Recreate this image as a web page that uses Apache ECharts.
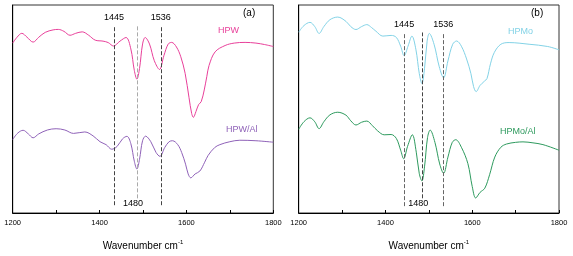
<!DOCTYPE html>
<html><head><meta charset="utf-8">
<script src="https://cdn.jsdelivr.net/npm/echarts@6/dist/echarts.min.js"></script>
<style>html,body{margin:0;padding:0;background:#fff}#c{width:573px;height:256px}</style>
</head><body><div id="c"></div>
<script>
// Wavenumber (cm-1) vs. intensity (arbitrary units)
const hpw = [[1200,174],[1210,180],[1221,184],[1233,180],[1247,175],[1260,180],[1275,185],[1293,187.5],[1305,188],[1318,186],[1332,182],[1345,184],[1360,185.5],[1375,182],[1390,177],[1408,176],[1420,174.5],[1432,171],[1447,176],[1461,179.7],[1472,168],[1480,146],[1486,137],[1492,148],[1499,173],[1505,179.7],[1515,173],[1526,156],[1538,147],[1548,161],[1558,173],[1566,174.7],[1577,170],[1587,160],[1597,143],[1606,118],[1612,102],[1616,98],[1622,104],[1628,111],[1634,114],[1641,126],[1647,140],[1652,151],[1666,165],[1689,171.5],[1710,174],[1735,174.7],[1760,174],[1780,172.5],[1800,170.5]];
const hpwAl = [[1200,75.3],[1212,82],[1224,84.7],[1236,81],[1247,77],[1260,81],[1280,85],[1300,86.3],[1320,85],[1340,81.5],[1366,83],[1385,79],[1401,73],[1415,70],[1428,65.3],[1440,68],[1453,76],[1463,78.5],[1472,71],[1480,53],[1486,45],[1492,55],[1499,74],[1506,78.7],[1518,73],[1530,62],[1539,58],[1550,67],[1560,73],[1568,74],[1580,70],[1589,62],[1598,50],[1604,40],[1610,36],[1620,40],[1631,43],[1642,52],[1650,59],[1665,67],[1677,70],[1700,73],[1723,74.5],[1760,74],[1800,72.5]];
const hpmo = [[1200,184.3],[1212,191],[1226,194.3],[1237,190],[1247,183],[1258,190],[1272,197],[1290,199.7],[1309,195.3],[1320,190],[1332,187],[1345,190],[1357,192],[1368,189],[1378,185.3],[1394,180.3],[1413,181],[1425,179],[1435,170],[1443,160.3],[1452,170],[1461,180.3],[1470,167],[1478,142],[1484,132],[1490,147],[1496,175],[1501,183],[1512,172],[1524,149],[1534,137.7],[1544,155],[1555,172],[1564,175.3],[1575,170],[1587,157],[1597,142],[1603,129],[1609,123.7],[1618,130],[1628,134.3],[1634,137],[1642,152],[1651,163.7],[1666,172],[1685,173.7],[1731,172],[1774,169.7],[1800,166.3]];
const hpmoAl = [[1200,85.3],[1212,93],[1226,97],[1237,93],[1247,86],[1258,93],[1272,100],[1290,102.7],[1309,99.7],[1320,94],[1332,89.7],[1345,92.5],[1357,93.7],[1370,89],[1382,83.7],[1397,79.7],[1413,80],[1425,76],[1435,64],[1442,55.3],[1451,68],[1462,79.7],[1471,62],[1478,40],[1484,32.7],[1490,47],[1497,77],[1503,84.5],[1514,72],[1525,50],[1534,40.5],[1544,57],[1554,72],[1562,74.7],[1575,67],[1590,50.3],[1600,27],[1608,15.3],[1618,21],[1629,25.3],[1640,39],[1652,57],[1666,67],[1679,70.3],[1700,72],[1717,72.5],[1740,71.5],[1763,69.7],[1800,64]];
// reference band lines (position on axis, label)
const bandPosA = [1433, 1486, 1541];
const bandPosB = [1443, 1485, 1533];
const bandLabels = ['1445', '1480', '1536'];
const xTicks = [1200, 1400, 1600, 1800];

const chart = echarts.init(document.getElementById('c'), null, {renderer:'canvas'});
const FONT = 'Liberation Sans';

function xAxis(gi){
  return {
    type:'value', gridIndex:gi, min:1200, max:1800, interval:100,
    axisLine:{show:true, onZero:false, lineStyle:{color:'#000', width:1}},
    axisTick:{show:true, inside:true, length:3, lineStyle:{color:'#000'}},
    axisLabel:{fontFamily:FONT, fontSize:7.5, color:'#000', margin:6,
      formatter:v => xTicks.includes(v) ? String(v) : ''},
    splitLine:{show:false},
    name:'{a|Wavenumber cm}{s|-1}', nameLocation:'middle', nameGap:26,
    nameTextStyle:{rich:{a:{fontFamily:FONT, fontSize:10, color:'#000'}, s:{fontFamily:FONT, fontSize:6, color:'#000', verticalAlign:'top', padding:[0,0,8,0]}}}
  };
}
function yAxis(gi, max){
  return {type:'value', gridIndex:gi, min:0, max:max,
    axisLine:{show:true, lineStyle:{color:'#000', width:1}},
    axisTick:{show:false}, axisLabel:{show:false}, splitLine:{show:false}};
}
function bands(pos, y0s, y1, colors){
  return pos.map((p,i)=>[
    {coord:[p, y0s[i]], lineStyle:{color:colors[i]},
     label:{show:true, position: i===1 ? 'start' : 'end', formatter:bandLabels[i],
       fontFamily:FONT, fontSize:9, color:'#000', distance: i===1 ? 1 : 3, offset: i===1 ? [-4,0] : [0,0]}},
    {coord:[p, y1]}
  ]);
}

const option = {
  animation:false,
  backgroundColor:'#fff',
  grid:[
    {left:12.7, right:299.7, top:5, bottom:38, show:true, borderColor:'#333', borderWidth:1},
    {left:298.7, right:14, top:5, bottom:39, show:true, borderColor:'#333', borderWidth:1}
  ],
  xAxis:[xAxis(0), xAxis(1)],
  yAxis:[yAxis(0,213), yAxis(1,212)],
  series:[
    {type:'line', xAxisIndex:0, yAxisIndex:0, data:hpw, smooth:0.35, showSymbol:false,
     lineStyle:{color:'#e8409a', width:1},
     markLine:{silent:true, symbol:'none', lineStyle:{type:[4,2], width:1},
       data:bands(bandPosA, [8,15,8], 192, ['#444','#aaa','#444'])}},
    {type:'line', xAxisIndex:0, yAxisIndex:0, data:hpwAl, smooth:0.35, showSymbol:false,
     lineStyle:{color:'#8f62b8', width:1}},
    {type:'line', xAxisIndex:1, yAxisIndex:1, data:hpmo, smooth:0.35, showSymbol:false,
     lineStyle:{color:'#82d2e6', width:1},
     markLine:{silent:true, symbol:'none', lineStyle:{type:[4,2], width:1},
       data:bands(bandPosB, [7,15,7], 184, ['#666','#444','#666'])}},
    {type:'line', xAxisIndex:1, yAxisIndex:1, data:hpmoAl, smooth:0.35, showSymbol:false,
     lineStyle:{color:'#2e9a5e', width:1}}
  ],
  graphic:[
    {type:'text', left:243, top:8, style:{text:'(a)', font:'10px "Liberation Sans"', fill:'#000'}},
    {type:'text', left:531, top:8, style:{text:'(b)', font:'10px "Liberation Sans"', fill:'#000'}},
    {type:'text', left:218, top:26, style:{text:'HPW', font:'9px "Liberation Sans"', fill:'#e8409a'}},
    {type:'text', left:226, top:125, style:{text:'HPW/Al', font:'9px "Liberation Sans"', fill:'#8f62b8'}},
    {type:'text', left:508, top:27, style:{text:'HPMo', font:'9px "Liberation Sans"', fill:'#82d2e6'}},
    {type:'text', left:500, top:127, style:{text:'HPMo/Al', font:'9px "Liberation Sans"', fill:'#2e9a5e'}}
  ]
};
chart.setOption(option);
</script></body></html>
